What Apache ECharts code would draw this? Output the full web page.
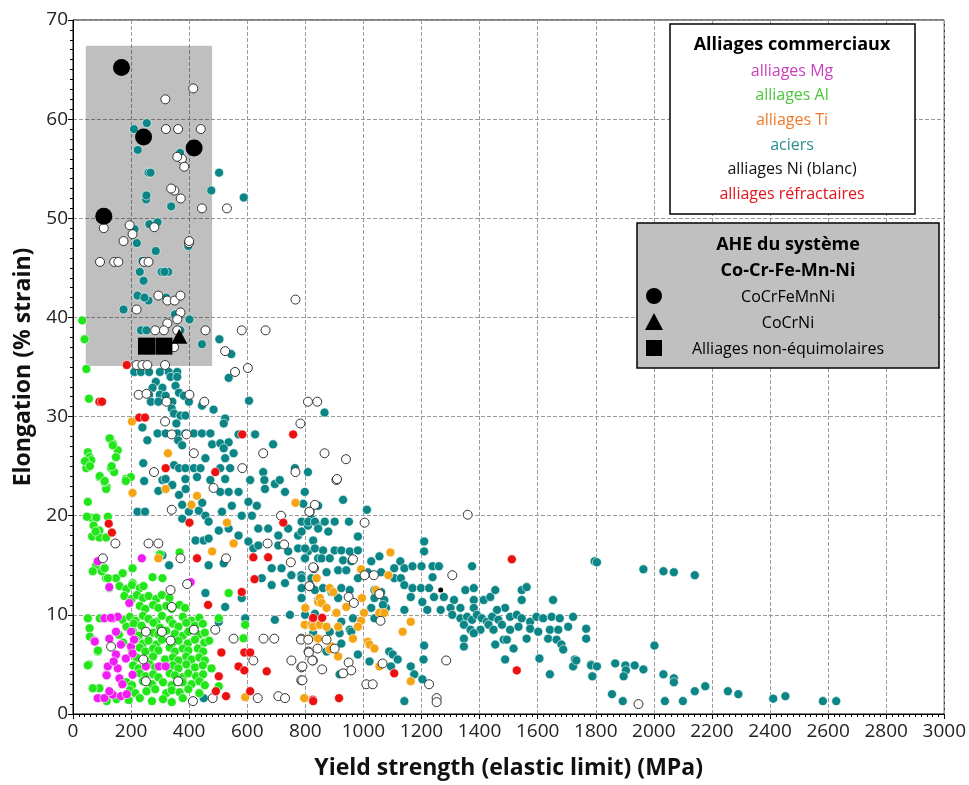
<!DOCTYPE html>
<html><head><meta charset="utf-8">
<script src="https://cdn.jsdelivr.net/npm/echarts@6/dist/echarts.min.js"></script>
<style>html,body{margin:0;padding:0;background:#fff}#c{width:969px;height:785px}</style>
</head><body><div id="c"></div>
<script>
const xAxisTitle = 'Yield strength (elastic limit) (MPa)';
const yAxisTitle = 'Elongation (% strain)';
const legendCommercial = ['alliages Mg','alliages Al','alliages Ti','aciers','alliages Ni (blanc)','alliages réfractaires'];
const legendHEA = ['CoCrFeMnNi','CoCrNi','Alliages non-équimolaires'];
const grayZone = [[44, 35.1],[479, 67.4]];

const mgData = [[85,15.4],[237,15.7],[125,12.8],[194,11.2],[405,13.3],[108,9.65],[137,9.65],[154,9.8],[148,8.3],[200,8.3],[74,7.4],[125,7.6],[165,7.0],[148,6.0],[200,6.8],[205,6.1],[182,5.6],[120,4.8],[154,4.6],[114,3.95],[160,3.6],[205,3.95],[251,4.8],[296,4.8],[319,4.8],[85,1.6],[108,1.6],[137,1.95],[165,1.8],[125,2.3],[130,9.7],[170,3.0],[140,5.3],[185,2.0],[210,7.5],[75,7.3],[116,3.9]];

const alData = [[32,39.7],[40,37.8],[46,34.8],[55,31.8],[128,27.8],[137,27.3],[154,26.6],[148,25.9],[51,26.4],[57,25.9],[46,24.8],[63,25.6],[131,24.8],[142,24.4],[91,23.9],[182,23.7],[199,23.9],[92,24.0],[116,22.9],[51,21.4],[114,22.7],[108,23.4],[182,23.5],[41,25.5],[58,25.0],[109,23.5],[126,27.8],[137,27.1],[133,25.0],
[63,19.8],[80,19.8],[71,19.0],[91,18.5],[66,17.9],[91,17.8],[114,17.8],[78,18.4],[120,19.9],[48,19.9],
[80,15.0],[108,14.7],[114,13.7],[148,13.7],[171,14.2],[205,14.7],[299,16.1],[367,16.3],[274,13.8],[308,13.7],[205,13.2],[125,12.7],[68,14.4],[99,14.4],[109,14.7],[120,13.7],
[160,12.9],[184,12.6],[203,13.0],[230,12.7],[243,12.9],
[177,11.9],[202,11.6],[220,12.0],[241,11.7],[260,11.9],[287,11.6],[306,12.0],[332,11.7],
[230,10.9],[249,10.6],[276,11.0],[294,10.7],[321,10.9],[340,10.6],[367,11.0],[386,10.7],
[57,8.65],[55,5.0],[85,6.3],[91,2.6],[114,1.6],[536,12.2],[502,9.66],[593,9.0],[587,7.64],[502,2.8],[51,9.65],[92,9.65],[58,7.8],[86,6.4],[51,4.9],[68,2.6],[92,1.6],[116,1.6],
[171,9.5],[196,9.8],[215,9.4],[241,9.9],[260,9.6],[287,9.3],[306,9.9],[333,9.5],[378,9.8],[408,9.4],[435,9.7],
[184,8.8],[209,9.1],[236,8.9],[277,9.2],[300,8.7],[344,9.1],[363,8.8],[390,9.2],[420,8.9],[447,9.1],
[158,8.0],[207,8.3],[226,7.9],[276,8.2],[294,8.0],[321,8.4],[351,8.1],[378,7.9],[397,8.3],[435,8.0],[454,8.2],
[173,7.2],[215,7.5],[241,7.1],[260,7.4],[287,7.0],[306,7.5],[344,7.2],[363,7.4],[395,7.1],[420,7.5],[452,7.2],[469,7.4],
[203,6.4],[230,6.7],[249,6.3],[276,6.6],[294,6.4],[333,6.7],[351,6.3],[378,6.6],[397,6.4],[430,6.6],[448,6.3],
[219,5.7],[249,5.4],[276,5.8],[317,5.5],[344,5.7],[363,5.4],[390,5.8],[408,5.5],[435,5.7],[454,5.4],
[207,4.9],[226,4.6],[264,5.0],[283,4.7],[344,4.9],[363,4.6],[390,5.0],[420,4.7],[447,4.9],[477,4.6],
[230,4.1],[249,3.8],[276,4.0],[294,3.7],[333,4.1],[351,3.9],[378,3.7],[397,4.1],[424,3.8],[448,4.0],
[184,3.2],[203,2.9],[241,3.3],[272,3.0],[310,3.2],[340,2.9],[378,3.2],[408,3.0],[435,3.3],[454,2.9],
[196,2.4],[215,2.1],[253,2.3],[283,2.5],[321,2.1],[340,2.4],[367,2.2],[397,2.5],[435,2.1],
[116,1.3],[150,1.5],[192,1.4],[230,1.6],[272,1.3],[310,1.5],[340,1.2],[378,1.6]];

const tiData = [[205,22.3],[319,22.7],[408,21.1],[427,22.0],[530,19.3],[553,17.2],[479,16.4],[294,15.7],[766,21.3],[800,10.7],[798,9.0],[821,9.0],[844,9.0],[815,7.6],[593,1.7],[798,1.6],[844,11.3],
[1093,16.3],[992,14.6],[1086,14.0],[839,13.7],[884,12.7],[896,12.3],[850,11.7],[856,11.2],[873,10.7],[907,10.2],[941,10.8],[995,11.7],[1002,10.2],[1044,12.5],[1055,10.2],[1072,10.2],[992,9.4],[981,8.8],[964,7.6],[1015,7.3],[1021,7.0],[1038,6.6],[890,6.8],[884,6.5],[913,5.8],[827,8.8],[850,9.0],[873,8.8],[913,8.8],[810,7.6],[844,7.6],[1163,9.3],[1135,8.3],[1055,4.8],[1163,3.3],[796,1.6],[203,29.5],[327,26.3]];

const steelData = [[245,23.5],[308,23.6],[222,20.4],[248,20.4],[294,22.5],[342,23.1],[365,22.1],[388,22.7],[376,21.1],[399,20.4],[376,19.7],[433,20.5],[456,20.0],[467,19.4],[445,21.3],[507,22.4],[536,22.4],[570,22.4],[604,21.4],[633,21.0],[661,22.7],[695,23.2],[730,22.4],[798,22.4],[844,21.0],[547,21.0],[513,20.4],[581,20.0],[616,20.0],[638,18.7],[672,18.7],[707,18.0],[741,18.7],[775,18.0],[809,19.0],[844,19.0],[821,19.7],[502,18.5],[536,18.7],[570,18.0],[604,17.4],[621,16.7],[638,17.0],[707,17.0],[741,16.4],[775,16.7],[809,16.4],[798,15.7],[844,15.7],[422,17.5],[450,17.5],[467,17.7],[308,16.0],[331,15.0],[467,15.0],[519,15.2],[684,14.7],[718,14.7],[752,14.0],[786,14.0],[821,13.7],[650,13.7],[684,13.0],[730,13.2],[456,12.2],[524,10.8],[581,11.7],[593,9.65],[695,9.5],[747,10.0],[502,9.3],[450,1.6],
[793,21.2],[930,21.6],[1012,20.6],[787,19.4],[810,19.4],[833,19.4],[867,19.4],[901,19.4],[950,19.4],[844,18.7],[879,18.4],[787,18.4],[827,17.5],[981,17.9],[799,16.7],[833,16.7],[861,16.5],[901,16.5],[924,16.5],[953,16.4],[981,16.5],[799,15.7],[856,15.7],[884,15.7],[930,15.5],[958,15.4],[1027,15.4],[1055,15.9],[1127,15.4],[1209,17.4],[1209,16.4],[1106,14.7],[1141,14.7],[1169,14.9],[1200,14.9],[1238,14.9],[1260,14.9],[1374,14.9],[1238,13.8],[873,14.3],[913,14.5],[941,14.5],[981,13.7],[1015,14.3],[1061,14.3],[1106,13.7],[1129,13.7],[1141,13.0],[1169,12.7],[1198,12.7],[1226,12.7],[1243,11.8],[1277,11.8],[1312,11.5],[1351,12.5],[1380,12.7],[1380,11.5],[1414,11.5],[1437,11.8],[1454,12.5],[1545,12.5],[1562,12.8],[1545,11.5],[1653,11.5],[1488,10.7],[1460,10.5],[1300,10.7],[1334,10.7],[1380,10.7],[1163,11.8],[1203,11.3],[1220,10.5],[1266,10.5],[787,13.7],[787,12.7],[833,12.5],[861,12.7],[890,12.3],[924,12.7],[953,12.5],[1038,12.5],[1061,12.3],[1038,11.7],[1072,11.5],[1027,10.7],[1078,10.7],[1141,10.5],[787,11.7],[844,11.5],[913,11.7],[964,9.65],[924,9.3],[884,8.3],[918,8.15],[953,8.5],
[1306,10.0],[1334,9.65],[1357,9.8],[1374,9.5],[1391,10.0],[1408,9.65],[1425,9.3],[1443,9.8],[1465,9.5],[1505,9.8],[1528,10.0],[1545,9.65],[1574,9.3],[1596,9.8],[1619,9.65],[1648,9.8],[1676,9.65],[1722,9.8],[1346,9.0],[1369,8.5],[1403,8.5],[1431,9.0],[1448,8.5],[1477,9.0],[1505,8.5],[1534,8.8],[1574,8.6],[1602,8.3],[1642,8.5],[1671,8.5],[1705,8.8],[1767,8.6],[1380,8.15],[1346,7.6],[1346,6.8],[1454,7.0],[1483,7.5],[1494,7.5],[1517,6.6],[1562,7.6],[1636,7.6],[1665,7.5],[1682,7.0],[1688,6.5],[1767,7.6],[1209,6.9],[1207,5.5],[1488,5.5],[1606,5.6],[1728,5.5],[1722,4.8],[1784,5.0],[1790,3.8],[1642,4.0],[1796,15.4],[1141,1.3],
[1089,6.3],[1101,6.0],[1021,5.3],[981,6.0],[873,6.3],[924,7.1],[1163,4.8],[1175,4.0],[1203,3.5],[1095,4.8],[1118,5.5],[918,4.0],[827,8.15],[844,9.0],[799,10.0],[833,10.1],[958,8.3],[1038,9.65],[1067,11.0],
[1804,15.3],[1964,14.6],[2033,14.4],[2069,14.3],[2141,14.0],[1733,5.4],[1784,4.9],[1804,4.8],[1788,3.8],[1867,5.1],[1902,4.9],[1904,4.4],[1934,4.9],[1964,4.5],[1896,3.8],[2002,6.9],[2033,4.0],[2069,3.6],[2069,3.2],[1856,2.0],[1893,1.3],[2038,1.3],[2100,1.3],[2141,2.3],[2177,2.8],[2255,2.3],[2291,2.0],[2411,1.55],[2453,1.8],[2582,1.3],[2628,1.3],
[220,47.5],[285,46.7],[397,47.2],[305,44.6],[328,44.6],[230,44.6],[243,43.7],[222,42.2],[260,41.7],[174,40.8],[351,40.3],[401,39.8],[234,38.7],[253,38.7],[370,38.7],[504,37.8],[444,37.3],[545,36.3],[211,34.5],[234,34.5],[262,34.5],[299,34.5],[330,34.5],[359,34.5],[336,34.0],[359,34.0],[536,33.9],[558,34.5],[285,33.5],[274,32.9],[308,32.9],[353,33.1],[365,32.4],[382,32.1],[262,32.2],[299,32.2],[319,32.1],[268,31.5],[294,31.5],[342,31.5],[399,31.5],[444,31.1],[484,30.7],[606,31.6],[340,30.8],[348,30.3],[370,30.1],[387,30.1],[524,29.8],[519,29.3],[866,30.4],[239,28.9],[356,29.3],[291,28.3],[319,28.3],[359,28.3],[387,28.3],[416,28.3],[444,28.3],[473,28.3],[570,28.2],[627,28.2],[256,27.6],[362,27.6],[376,27.1],[479,27.2],[507,27.3],[536,27.4],[689,27.2],[519,26.8],[553,26.3],[456,25.8],[524,25.8],[242,25.3],[348,25.1],[365,24.8],[387,24.8],[416,24.8],[439,24.8],[507,24.8],[541,24.8],[655,24.4],[764,24.8],[809,24.4],[319,23.7],[387,23.7],[427,23.9],[473,23.6],[524,23.7],[610,23.6],[659,23.6],[712,23.6],
[254,59.6],[210,59.0],[223,56.9],[369,56.6],[260,54.6],[267,54.6],[503,54.6],[476,52.8],[252,51.9],[588,52.1],
[212,48.9],[263,49.4],[291,49.6],[253,52.3],[338,51.2],[239,45.7],[315,44.6],[321,42.0],[246,42.0]];

const niData = [[484,22.8],[340,20.6],[146,17.2],[260,17.2],[294,17.2],[103,15.7],[370,15.7],[527,15.7],[336,12.5],[393,13.1],[340,10.8],[251,8.3],[306,8.3],[416,8.5],[490,8.5],[553,7.6],[656,7.6],[693,7.6],[131,6.8],[336,7.4],[242,5.5],[251,3.3],[362,3.3],[413,1.3],[481,1.6],[621,5.4],[636,1.6],[707,1.8],[730,1.6],[670,17.2],[727,17.1],[750,15.3],[815,12.9],[716,20.0],[815,20.4],[830,14.7],[786,7.6],[811,6.3],[826,5.4],[786,4.7],[786,3.4],[752,5.4],
[907,23.6],[833,21.1],[814,20.4],[1004,19.3],[1359,20.1],[964,15.6],[827,14.8],[1004,14.0],[1036,14.0],[814,12.9],[949,11.8],[967,11.2],[1055,12.1],[1059,9.4],[1306,14.0],[785,7.5],[810,7.5],[873,7.5],[842,6.6],[812,6.2],[824,5.4],[790,4.8],[858,4.5],[901,6.6],[949,5.2],[958,4.4],[930,4.1],[790,3.4],[1010,3.0],[1032,3.0],[1066,5.1],[1226,3.0],[1252,1.6],[1252,1.2],[1285,5.4],[1947,1.0],
[93,45.6],[142,45.6],[156,45.6],[245,45.6],[260,45.6],[294,42.2],[325,41.7],[350,41.7],[370,42.2],[219,40.8],[370,40.5],[359,39.8],[325,39.4],[283,38.7],[313,38.7],[359,38.7],[456,38.7],[581,38.7],[663,38.7],[348,37.0],[524,36.6],[317,35.2],[219,35.2],[239,35.2],[256,35.2],[558,34.5],[602,34.9],[766,41.8],[399,47.5],[226,32.2],[253,32.3],[322,31.5],[401,32.2],[452,31.5],[809,31.5],[841,31.5],[317,29.5],[340,28.2],[391,28.2],[416,26.3],[655,26.3],[783,29.3],[866,26.3],[940,25.7],[279,24.4],[583,24.8],[766,24.4],[909,23.7],
[414,63.1],[318,62.0],[320,59.0],[362,59.0],[440,59.0],[375,56.0],[349,52.8],[371,52.0],
[106,49.0],[195,49.3],[280,49.1],[174,47.7],[400,47.7],[383,55.2],[359,56.2],[338,53.0],[444,51.0],[530,51.0],[205,48.4]];

const refrData = [[123,19.2],[134,18.3],[401,19.3],[427,15.7],[621,15.8],[672,15.8],[724,19.3],[625,13.6],[581,12.3],[465,11.0],[511,6.2],[590,6.2],[610,6.2],[570,4.8],[590,4.4],[667,4.3],[502,3.8],[492,2.3],[527,1.8],[610,2.3],[826,1.44],[826,9.65],
[1511,15.6],[827,9.7],[858,9.7],[1106,4.1],[1528,4.4],[827,1.3],[916,1.6],
[185,35.2],[91,31.5],[100,31.5],[228,29.9],[248,29.9],[583,28.2],[758,28.2],[319,24.8],[490,24.4]];

const otherData = [[1266,12.5]];
const heaCoCrFeMnNi = [[167,65.2],[243,58.2],[417,57.1],[106,50.2]];
const heaCoCrNi = [[366,38.1]];
const heaNonEqui = [[253,37.1],[313,37.1]];

const FONT = '"Open Sans", "Liberation Sans", sans-serif';
const dot = (color, z) => ({type:'scatter', symbol:'circle', symbolSize:9, z:z,
  itemStyle:{color:color, borderColor:'rgba(255,255,255,0.75)', borderWidth:0.8, opacity:1}, emphasis:{disabled:true}});

const chart = echarts.init(document.getElementById('c'), null, {renderer:'canvas'});
const legendColors = ['#cc3fbf','#4cc63c','#f07a2a','#2a9090','#111111','#e8141a'];
const txt = (t, x, y, font, fill) => ({type:'text', z:101, style:{text:t, x:x, y:y, align:'center', verticalAlign:'middle', textAlign:'center', textVerticalAlign:'middle', font:font, fill:fill}});
const graphics = [
  {type:'rect', z:100, shape:{x:670,y:24,width:245,height:190}, style:{fill:'#fff', stroke:'#000', lineWidth:1.5}},
  txt('Alliages commerciaux', 792, 45, 'bold 18px '+FONT, '#000'),
  {type:'rect', z:100, shape:{x:637,y:223,width:302,height:145}, style:{fill:'#c0c0c0', stroke:'#000', lineWidth:1.5}},
  txt('AHE du système', 788, 245, 'bold 18px '+FONT, '#000'),
  txt('Co-Cr-Fe-Mn-Ni', 788, 271, 'bold 18px '+FONT, '#000'),
  {type:'circle', z:101, shape:{cx:654, cy:296, r:8}, style:{fill:'#000'}},
  {type:'polygon', z:101, shape:{points:[[654,313],[645,330],[663,330]]}, style:{fill:'#000'}},
  {type:'rect', z:101, shape:{x:646,y:340,width:16,height:16}, style:{fill:'#000'}}
];
legendCommercial.forEach((t,i)=>graphics.push(txt(t, 792, 71+i*24.7, '16px '+FONT, legendColors[i])));
legendHEA.forEach((t,i)=>graphics.push(txt(t, 788, 297+i*26, '16px '+FONT, '#000')));

const axisCommon = {
  axisLine:{show:true, lineStyle:{color:'#000', width:1}},
  axisTick:{show:true, length:5, lineStyle:{color:'#000'}},
  minorTick:{show:true, splitNumber:10, length:3, lineStyle:{color:'#000'}},
  splitLine:{show:true, lineStyle:{type:'dashed', color:'#9a9a9a', width:1}},
  nameLocation:'middle',
  nameTextStyle:{fontFamily:FONT, fontWeight:'bold', fontSize:23, color:'#111'}
};
const fmt = v => String(v);

chart.setOption({
  animation:false,
  backgroundColor:'#fff',
  grid:{left:73, right:18, top:20, bottom:69, show:true, borderColor:'#000', borderWidth:1},
  xAxis:Object.assign({type:'value', min:0, max:3000, interval:200, name:xAxisTitle, nameGap:43}, axisCommon, {axisLabel:{fontFamily:FONT, fontSize:19, color:'#222', margin:8, formatter:fmt}}),
  yAxis:Object.assign({type:'value', min:0, max:70, interval:10, name:yAxisTitle, nameGap:29}, axisCommon, {axisLabel:{fontFamily:FONT, fontSize:19, color:'#222', margin:5, formatter:fmt}}),
  graphic:graphics,
  series:[
    {type:'scatter', data:[], z:1, silent:true, markArea:{silent:true, itemStyle:{color:'rgba(0,0,0,0.25)'}, data:[[{coord:grayZone[0]},{coord:grayZone[1]}]]}},
    Object.assign(dot('#0b8585', 3), {name:'aciers', data:steelData}),
    Object.assign(dot('#22e61a', 4), {name:'alliages Al', data:alData}),
    Object.assign(dot('#f01ef0', 5), {name:'alliages Mg', data:mgData}),
    Object.assign(dot('#f5a414', 6), {name:'alliages Ti', data:tiData}),
    {type:'scatter', name:'alliages Ni (blanc)', data:niData, z:7, symbol:'circle', symbolSize:9, itemStyle:{color:'#fff', borderColor:'#333', borderWidth:1, opacity:1}},
    Object.assign(dot('#ec1010', 8), {name:'alliages réfractaires', data:refrData}),
    {type:'scatter', data:otherData, z:8, symbolSize:5, itemStyle:{color:'#000', opacity:1}},
    {type:'scatter', name:'CoCrFeMnNi', data:heaCoCrFeMnNi, z:9, symbol:'circle', symbolSize:17, itemStyle:{color:'#000', opacity:1}},
    {type:'scatter', name:'CoCrNi', data:heaCoCrNi, z:9, symbol:'triangle', symbolSize:[16,15], itemStyle:{color:'#000', opacity:1}},
    {type:'scatter', name:'Alliages non-équimolaires', data:heaNonEqui, z:9, symbol:'rect', symbolSize:17, itemStyle:{color:'#000', opacity:1}}
  ]
});
</script></body></html>
